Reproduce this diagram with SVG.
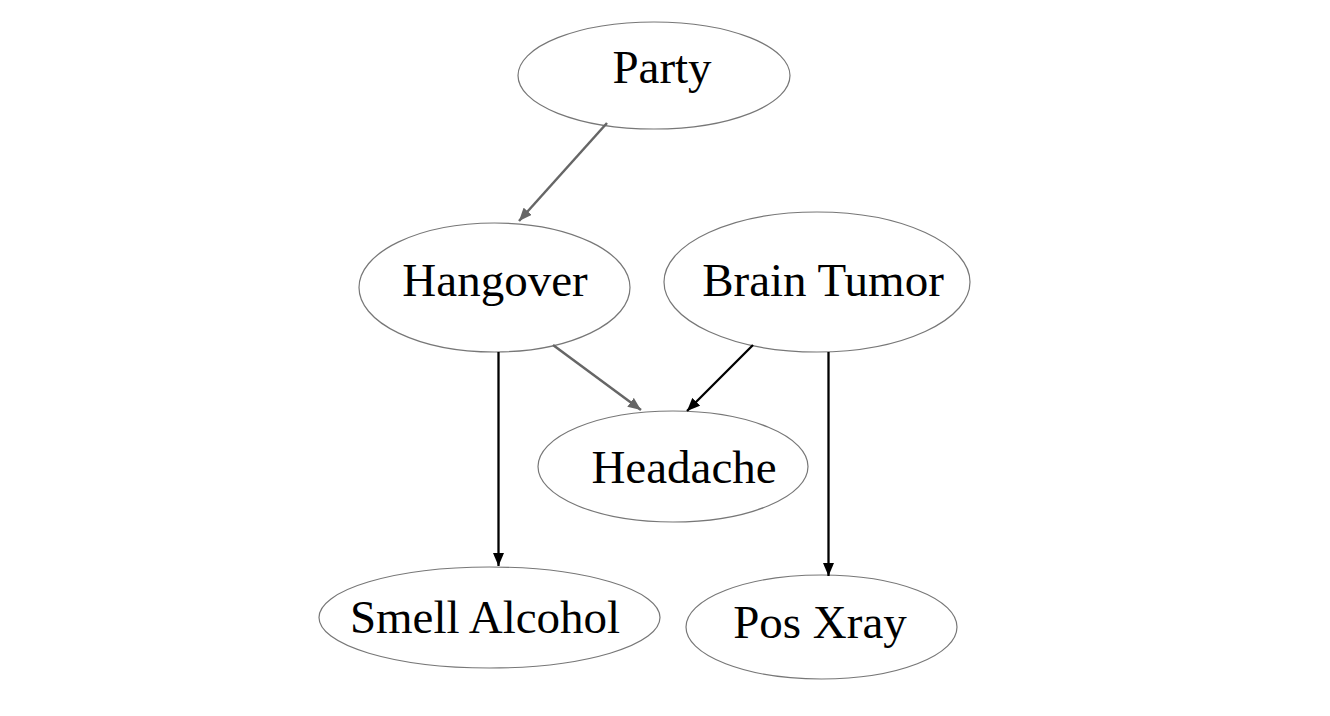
<svg xmlns="http://www.w3.org/2000/svg" width="1330" height="716" viewBox="0 0 1330 716">
<style>
.node ellipse{fill:#fff;stroke:#777;stroke-width:1.2}
.node text{font-family:"Liberation Serif","Times New Roman",serif;font-size:47px;fill:#000;text-anchor:middle}
.gray{stroke:#666;stroke-width:2.5;fill:none}
.black{stroke:#000;stroke-width:2.3;fill:none}
</style>
<defs>
<marker id="ag" markerWidth="13" markerHeight="11" refX="13" refY="5.5" orient="auto" markerUnits="userSpaceOnUse" viewBox="0 0 13 11"><path d="M0,0 L13,5.5 L0,11 z" fill="#666"/></marker>
<marker id="ab" markerWidth="13" markerHeight="11" refX="13" refY="5.5" orient="auto" markerUnits="userSpaceOnUse" viewBox="0 0 13 11"><path d="M0,0 L13,5.5 L0,11 z" fill="#000"/></marker>
</defs>
<rect width="1330" height="716" fill="#fff"/>
<g id="party" class="node"><ellipse cx="654" cy="75.5" rx="136" ry="53.5"/><text x="662" y="83">Party</text></g>
<g id="hangover" class="node"><ellipse cx="494.5" cy="287.5" rx="135.5" ry="64.5"/><text x="495" y="296">Hangover</text></g>
<g id="brain-tumor" class="node"><ellipse cx="817" cy="282" rx="153" ry="70"/><text x="823" y="296">Brain Tumor</text></g>
<g id="headache" class="node"><ellipse cx="673" cy="466.5" rx="135" ry="55.5"/><text x="684" y="483">Headache</text></g>
<g id="smell-alcohol" class="node"><ellipse cx="489.5" cy="617.5" rx="170.5" ry="50.5"/><text x="485" y="633">Smell Alcohol</text></g>
<g id="pos-xray" class="node"><ellipse cx="821.5" cy="627" rx="135.5" ry="52"/><text x="820" y="638">Pos Xray</text></g>
<g id="connectors">
<line class="gray" x1="607" y1="123" x2="519" y2="221" marker-end="url(#ag)"/>
<line class="gray" x1="553" y1="345" x2="641" y2="410" marker-end="url(#ag)"/>
<line class="black" x1="753" y1="345" x2="687" y2="411" marker-end="url(#ab)"/>
<line class="black" x1="498.5" y1="352" x2="498.5" y2="566" marker-end="url(#ab)"/>
<line class="black" x1="828.5" y1="352" x2="828.5" y2="576" marker-end="url(#ab)"/>
</g>
</svg>
